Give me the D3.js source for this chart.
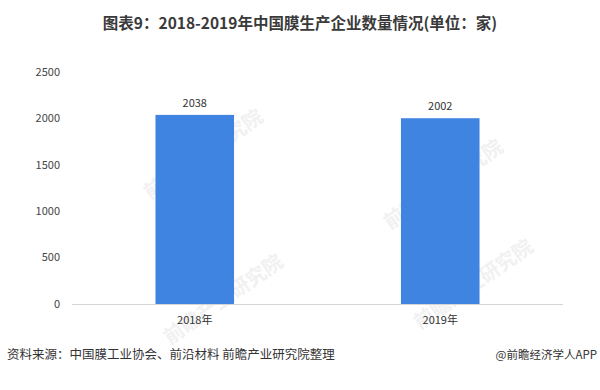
<html>
<head>
<meta charset="utf-8">
<script src="https://cdn.jsdelivr.net/npm/d3@7"></script>
<style>
  body { margin: 0; background: #fff; }
  text { font-family: "Noto Sans CJK SC", "Noto Sans", sans-serif; }
</style>
</head>
<body>
<script>
// 数据
var years = ["2018年", "2019年"];
var counts = [2038, 2002];
var yTicks = [0, 500, 1000, 1500, 2000, 2500];

var width = 600, height = 390;
var svg = d3.select("body").append("svg")
    .attr("width", width)
    .attr("height", height);

// 比例尺
var x = d3.scaleBand()
    .domain(years)
    .range([72, 563])
    .paddingInner(0.68)
    .paddingOuter(0.34);

var y = d3.scaleLinear()
    .domain([0, 2500])
    .range([304, 72]);

// 水印
var wm = svg.append("g").attr("fill", "#f1f1f1").attr("font-size", 20).attr("font-weight", "bold");
[[150, 200], [390, 230], [420, 330], [170, 345]].forEach(function(p) {
    wm.append("text")
        .attr("transform", "translate(" + p[0] + "," + p[1] + ") rotate(-35)")
        .text("前瞻产业研究院");
});

// 标题
svg.append("text")
    .attr("x", 300).attr("y", 29)
    .attr("text-anchor", "middle")
    .attr("font-size", 15.5).attr("font-weight", "bold")
    .attr("fill", "#3a3a3a")
    .text("图表9：2018-2019年中国膜生产企业数量情况(单位：家)");

// y轴刻度
svg.append("g")
    .selectAll("text")
    .data(yTicks)
    .enter()
    .append("text")
    .attr("x", 60)
    .attr("y", function(d) { return y(d); })
    .attr("dy", "0.35em")
    .attr("text-anchor", "end")
    .attr("font-size", 11)
    .attr("fill", "#444")
    .text(function(d) { return d; });

// 柱子
svg.selectAll("rect.bar")
    .data(counts)
    .enter()
    .append("rect")
    .attr("class", "bar")
    .attr("x", function(d, i) { return x(years[i]); })
    .attr("y", function(d) { return y(d); })
    .attr("width", x.bandwidth())
    .attr("height", function(d) { return y(0) - y(d); })
    .attr("fill", "#4084e2");

// 数值标签
svg.selectAll("text.val")
    .data(counts)
    .enter()
    .append("text")
    .attr("class", "val")
    .attr("x", function(d, i) { return x(years[i]) + x.bandwidth() / 2; })
    .attr("y", function(d) { return y(d) - 8; })
    .attr("text-anchor", "middle")
    .attr("font-size", 11)
    .attr("fill", "#333")
    .text(function(d) { return d; });

// x轴
svg.append("line")
    .attr("x1", 72).attr("x2", 563)
    .attr("y1", y(0) + 0.5).attr("y2", y(0) + 0.5)
    .attr("stroke", "#d4d4d4");

svg.selectAll("text.cat")
    .data(years)
    .enter()
    .append("text")
    .attr("class", "cat")
    .attr("x", function(d) { return x(d) + x.bandwidth() / 2; })
    .attr("y", 324)
    .attr("text-anchor", "middle")
    .attr("font-size", 11)
    .attr("fill", "#333")
    .text(function(d) { return d; });

// 来源
svg.append("text")
    .attr("x", 7).attr("y", 359)
    .attr("font-size", 12.5)
    .attr("fill", "#333")
    .text("资料来源：中国膜工业协会、前沿材料 前瞻产业研究院整理");

svg.append("text")
    .attr("x", 597).attr("y", 359)
    .attr("text-anchor", "end")
    .attr("font-size", 11.5)
    .attr("fill", "#333")
    .text("@前瞻经济学人APP");
</script>
</body>
</html>
